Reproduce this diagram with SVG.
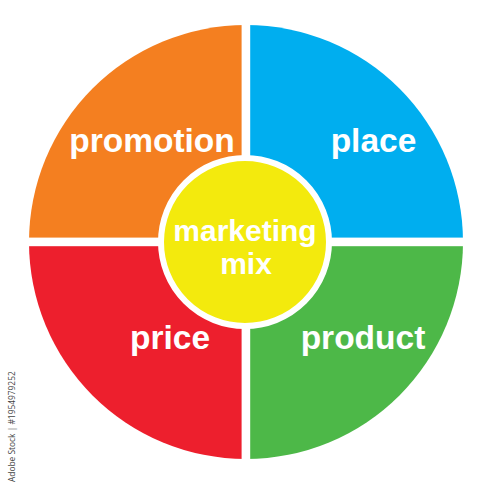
<svg xmlns="http://www.w3.org/2000/svg" width="500" height="490" viewBox="0 0 500 490">
<style>
.lbl{font-family:"Liberation Sans",Arial,sans-serif;font-weight:bold;fill:#fff;text-anchor:middle}
.big{font-size:33.5px}
.mid{font-size:30px}
</style>
<rect width="500" height="490" fill="#fff"/>
<g id="promotion">
<path d="M246,242 L29,242 A217,217 0 0 1 246,25 Z" fill="#F47F20"/>
<text class="lbl big" x="152" y="152">promotion</text>
</g>
<g id="place">
<path d="M246,242 L246,25 A217,217 0 0 1 463,242 Z" fill="#00AEEF"/>
<text class="lbl big" x="373.5" y="152">place</text>
</g>
<g id="price">
<path d="M246,242 L246,459 A217,217 0 0 1 29,242 Z" fill="#ED1F2D"/>
<text class="lbl big" x="170" y="349">price</text>
</g>
<g id="product">
<path d="M246,242 L463,242 A217,217 0 0 1 246,459 Z" fill="#4DB848"/>
<text class="lbl big" x="363" y="349">product</text>
</g>
<g id="dividers" fill="#fff">
<rect x="241.6" y="20" width="8.6" height="445"/>
<rect x="24" y="237.6" width="445" height="8.6"/>
</g>
<g id="marketing-mix">
<circle cx="245" cy="242" r="84" fill="#F3EA0D" stroke="#fff" stroke-width="6"/>
<text class="lbl mid" x="245" y="241">marketing</text>
<text class="lbl mid" x="246" y="274">mix</text>
</g>
<text transform="translate(15,482) rotate(-90)" font-family="'Open Sans','DejaVu Sans',sans-serif" font-size="8.4" fill="#444">Adobe Stock | #1954979252</text>
</svg>
